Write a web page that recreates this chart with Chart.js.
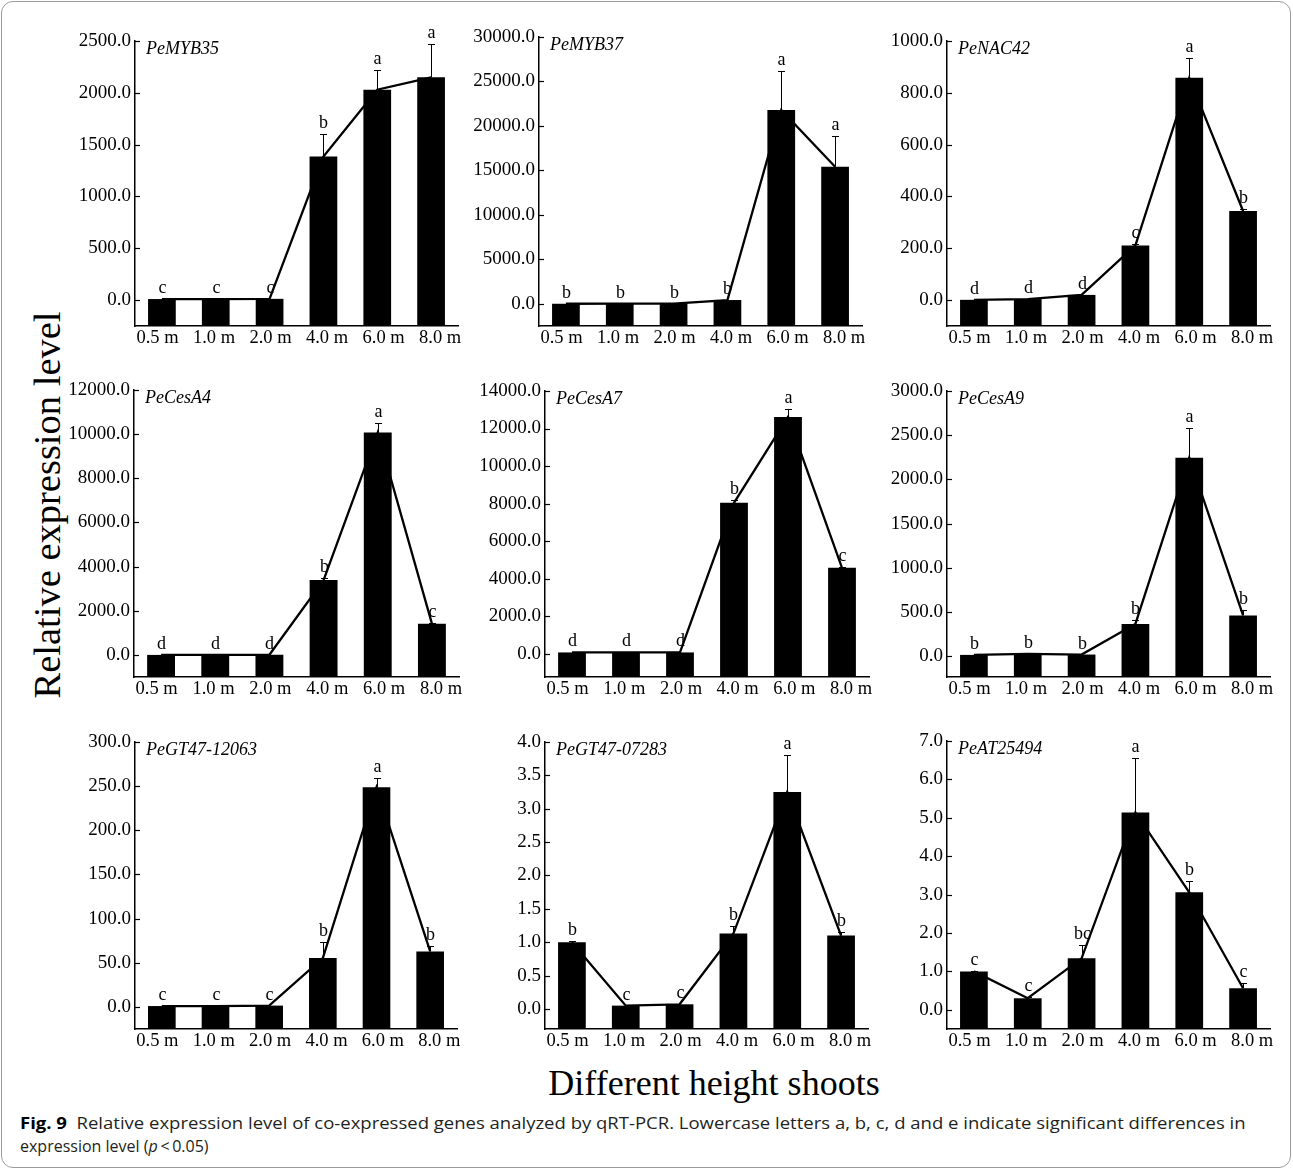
<!DOCTYPE html>
<html>
<head>
<meta charset="utf-8">
<title>Relative expression level of co-expressed genes</title>
<script src="https://cdn.jsdelivr.net/npm/chart.js@4.4.1/dist/chart.umd.min.js"></script>
<style>
  html, body { margin: 0; padding: 0; background: #fff; }
  #fig { position: relative; width: 1293px; height: 1170px; overflow: hidden; background: #fff; }
  #frame { position: absolute; left: 1px; top: 1px; width: 1290px; height: 1167px;
           border: 1px solid #9b9b9b; border-radius: 12px; box-sizing: border-box; }
  #fig canvas { position: absolute; }
  .ytitle { position: absolute; left: 47px; top: 505px; font-family: "Liberation Serif", serif;
            font-size: 38.5px; line-height: 38px; white-space: nowrap; color: #000;
            transform: translate(-50%, -50%) rotate(-90deg); }
  .xtitle { position: absolute; left: 714px; top: 1065px; font-family: "Liberation Serif", serif;
            font-size: 36px; line-height: 36px; white-space: nowrap; color: #000;
            transform: translateX(-50%); }
  .caption { position: absolute; left: 20px; top: 1112px; font-family: "Open Sans", sans-serif;
             font-size: 16px; line-height: 23px; color: #231f20; }
  .caption div { white-space: nowrap; transform-origin: 0 50%; }
  .caption b { color: #000; font-weight: 700; }
</style>
</head>
<body>
<div id="fig">
  <div id="frame"></div>
  <div class="ytitle">Relative expression level</div>
  <div class="xtitle">Different height shoots</div>
  <div class="caption">
    <div id="cap1"><b>Fig. 9</b>&nbsp; Relative expression level of co-expressed genes analyzed by qRT-PCR. Lowercase letters a, b, c, d and e indicate significant differences in</div>
    <div>expression level (<i>p</i>&#8201;&lt;&#8201;0.05)</div>
  </div>
</div>
<script>
// Sampling heights along the shoot
const heights = ['0.5 m', '1.0 m', '2.0 m', '4.0 m', '6.0 m', '8.0 m'];

// Mean relative expression, standard error and significance letters per gene
const peMYB35Mean = [10, 10, 12, 1385, 2030, 2150];
const peMYB35Err  = [0, 0, 0, 215, 190, 325];
const peMYB35Sig  = ['c', 'c', 'c', 'b', 'a', 'a'];

const peMYB37Mean = [1, 10, 20, 420, 21800, 15400];
const peMYB37Err  = [0, 0, 0, 0, 4400, 3500];
const peMYB37Sig  = ['b', 'b', 'b', 'b', 'a', 'a'];

const peNAC42Mean = [1, 4, 20, 211, 858, 344];
const peNAC42Err  = [0, 0, 0, 6, 78, 6];
const peNAC42Sig  = ['d', 'd', 'd', 'c', 'a', 'b'];

const peCesA4Mean = [1, 5, 8, 3390, 10080, 1415];
const peCesA4Err  = [0, 0, 0, 75, 440, 45];
const peCesA4Sig  = ['d', 'd', 'd', 'b', 'a', 'c'];

const peCesA7Mean = [60, 60, 60, 8040, 12620, 4570];
const peCesA7Err  = [0, 0, 0, 150, 400, 70];
const peCesA7Sig  = ['d', 'd', 'd', 'b', 'a', 'c'];

const peCesA9Mean = [15, 26, 19, 365, 2245, 462];
const peCesA9Err  = [0, 0, 0, 48, 340, 64];
const peCesA9Sig  = ['b', 'b', 'b', 'b', 'a', 'b'];

const peGT12063Mean = [1, 1, 1.5, 55.3, 248.8, 62.9];
const peGT12063Err  = [0, 0, 0, 18.5, 10.9, 6.4];
const peGT12063Sig  = ['c', 'c', 'c', 'b', 'a', 'b'];

const peGT07283Mean = [1.0, 0.05, 0.07, 1.13, 3.25, 1.10];
const peGT07283Err  = [0.02, 0, 0, 0.12, 0.55, 0.05];
const peGT07283Sig  = ['b', 'c', 'c', 'b', 'a', 'b'];

const peAT25494Mean = [1.0, 0.30, 1.34, 5.14, 3.06, 0.56];
const peAT25494Err  = [0.02, 0.03, 0.34, 1.42, 0.29, 0.15];
const peAT25494Sig  = ['c', 'c', 'bc', 'a', 'b', 'c'];

// Gene names, in panel order (left to right, top to bottom)
const geneNames = ['PeMYB35', 'PeMYB37', 'PeNAC42', 'PeCesA4', 'PeCesA7', 'PeCesA9',
                   'PeGT47-12063', 'PeGT47-07283', 'PeAT25494'];

// Value axes: upper limit, labelled step and the level where the category axis crosses
const yAxisMax  = [2500, 30000, 1000, 12000, 14000, 3000, 300, 4.0, 7.0];
const yAxisStep = [500, 5000, 200, 2000, 2000, 500, 50, 0.5, 1.0];
const yAxisMin  = [-250, -2500, -100, -1000, -1250, -235, -25, -0.3, -0.5];

const means = [peMYB35Mean, peMYB37Mean, peNAC42Mean, peCesA4Mean, peCesA7Mean, peCesA9Mean,
               peGT12063Mean, peGT07283Mean, peAT25494Mean];
const errs  = [peMYB35Err, peMYB37Err, peNAC42Err, peCesA4Err, peCesA7Err, peCesA9Err,
               peGT12063Err, peGT07283Err, peAT25494Err];
const sigs  = [peMYB35Sig, peMYB37Sig, peNAC42Sig, peCesA4Sig, peCesA7Sig, peCesA9Sig,
               peGT12063Sig, peGT07283Sig, peAT25494Sig];

// Plot-area rectangles of the nine panels on the page (left, top, right, bottom)
const plotBoxes = [
  [135, 41, 458, 326], [539, 37, 862, 326], [947, 41, 1270, 326],
  [134, 390, 459, 677], [545, 391, 869, 677], [947, 391, 1270, 677],
  [135, 742, 457, 1029], [545, 742, 868, 1029], [947, 741, 1270, 1029]
];

const AXIS_W = 100, PAD_TOP = 30, PAD_RIGHT = 12, XAXIS_H = 32;
const SERIF = '"Liberation Serif", "Times New Roman", serif';
// Category labels sit on a slightly wider pitch than the bars
const LABEL_SPREAD = 2.7, LABEL_SHIFT = 2.3;

// Error whiskers, significance letters, y ticks, category labels and the gene name
const panelDecor = {
  id: 'panelDecor',
  afterDatasetsDraw(chart, args, opts) {
    const { ctx, chartArea } = chart;
    const x = chart.scales.x, y = chart.scales.y;
    ctx.save();
    ctx.strokeStyle = '#000';
    ctx.fillStyle = '#000';
    ctx.lineWidth = 1;
    opts.mean.forEach((m, i) => {
      const e = opts.err[i];
      const cx = Math.round(x.getPixelForValue(i)) + 0.5;
      const yTop = y.getPixelForValue(m + e);
      if (e > 0) {
        const yBar = y.getPixelForValue(m);
        ctx.beginPath();
        ctx.moveTo(cx, yBar);
        ctx.lineTo(cx, Math.round(yTop) + 0.5);
        ctx.moveTo(cx - 3.5, Math.round(yTop) + 0.5);
        ctx.lineTo(cx + 3.5, Math.round(yTop) + 0.5);
        ctx.stroke();
      }
      ctx.font = '18px ' + SERIF;
      ctx.textAlign = 'center';
      ctx.textBaseline = 'alphabetic';
      ctx.fillText(opts.sig[i], cx, yTop - 6);
    });
    // inward tick marks on the value axis
    ctx.lineWidth = 1.2;
    y.ticks.forEach(t => {
      const py = Math.round(y.getPixelForValue(t.value)) + 0.5;
      ctx.beginPath();
      ctx.moveTo(chartArea.left, py);
      ctx.lineTo(chartArea.left + 5, py);
      ctx.stroke();
    });
    // category labels under the axis
    ctx.font = '18.5px ' + SERIF;
    ctx.textAlign = 'center';
    ctx.textBaseline = 'middle';
    const n = chart.data.labels.length;
    chart.data.labels.forEach((lab, i) => {
      const lx = x.getPixelForValue(i) + LABEL_SHIFT + (i - (n - 1) / 2) * LABEL_SPREAD;
      ctx.fillText(lab, lx, chartArea.bottom + 12.5);
    });
    // gene name
    ctx.font = 'italic 18px ' + SERIF;
    ctx.textAlign = 'left';
    ctx.textBaseline = 'middle';
    ctx.fillText(opts.name, chartArea.left + 11, chartArea.top + 8.5);
    ctx.restore();
  }
};

const fig = document.getElementById('fig');

geneNames.forEach((name, k) => {
  const [L, T, R, B] = plotBoxes[k];
  const canvas = document.createElement('canvas');
  const w = (R - L) + AXIS_W + PAD_RIGHT;
  const h = (B - T) + PAD_TOP + XAXIS_H;
  canvas.width = w;
  canvas.height = h;
  canvas.style.width = w + 'px';
  canvas.style.height = h + 'px';
  canvas.style.left = (L - AXIS_W) + 'px';
  canvas.style.top = (T - PAD_TOP) + 'px';
  fig.appendChild(canvas);

  const yTicks = [];
  for (let v = 0; v <= yAxisMax[k] + 1e-9; v += yAxisStep[k]) yTicks.push(+v.toFixed(4));

  new Chart(canvas, {
    type: 'bar',
    data: {
      labels: heights,
      datasets: [
        {
          type: 'line',
          data: means[k],
          borderColor: '#000',
          borderWidth: 2.3,
          pointRadius: 0,
          tension: 0,
          order: 0
        },
        {
          type: 'bar',
          data: means[k],
          base: yAxisMin[k],
          backgroundColor: '#000',
          borderWidth: 0,
          categoryPercentage: 1,
          barPercentage: 0.515,
          order: 1
        }
      ]
    },
    options: {
      responsive: false,
      animation: false,
      devicePixelRatio: 1,
      layout: { padding: { left: 0, top: PAD_TOP, right: PAD_RIGHT, bottom: 0 } },
      plugins: {
        legend: { display: false },
        tooltip: { enabled: false },
        panelDecor: { mean: means[k], err: errs[k], sig: sigs[k], name: name }
      },
      scales: {
        x: {
          type: 'category',
          offset: true,
          grid: { display: false, drawTicks: false },
          border: { display: true, color: '#000', width: 1.5 },
          ticks: { display: false },
          afterFit(s) { s.height = XAXIS_H; }
        },
        y: {
          type: 'linear',
          min: yAxisMin[k],
          max: yAxisMax[k],
          grid: { display: false, drawTicks: false },
          border: { display: true, color: '#000', width: 1.5 },
          ticks: { color: '#000', font: { family: SERIF, size: 19 }, padding: 4,
                   autoSkip: false, callback: v => Number(v).toFixed(1) },
          afterBuildTicks(s) { s.ticks = yTicks.map(v => ({ value: v })); },
          afterFit(s) { s.width = AXIS_W; }
        }
      }
    },
    plugins: [panelDecor]
  });
});

// Fit the first caption line to the column width
const cap1 = document.getElementById('cap1');
const capW = cap1.scrollWidth;
cap1.style.transform = 'scaleX(' + (1226 / capW).toFixed(4) + ')';
</script>
</body>
</html>
